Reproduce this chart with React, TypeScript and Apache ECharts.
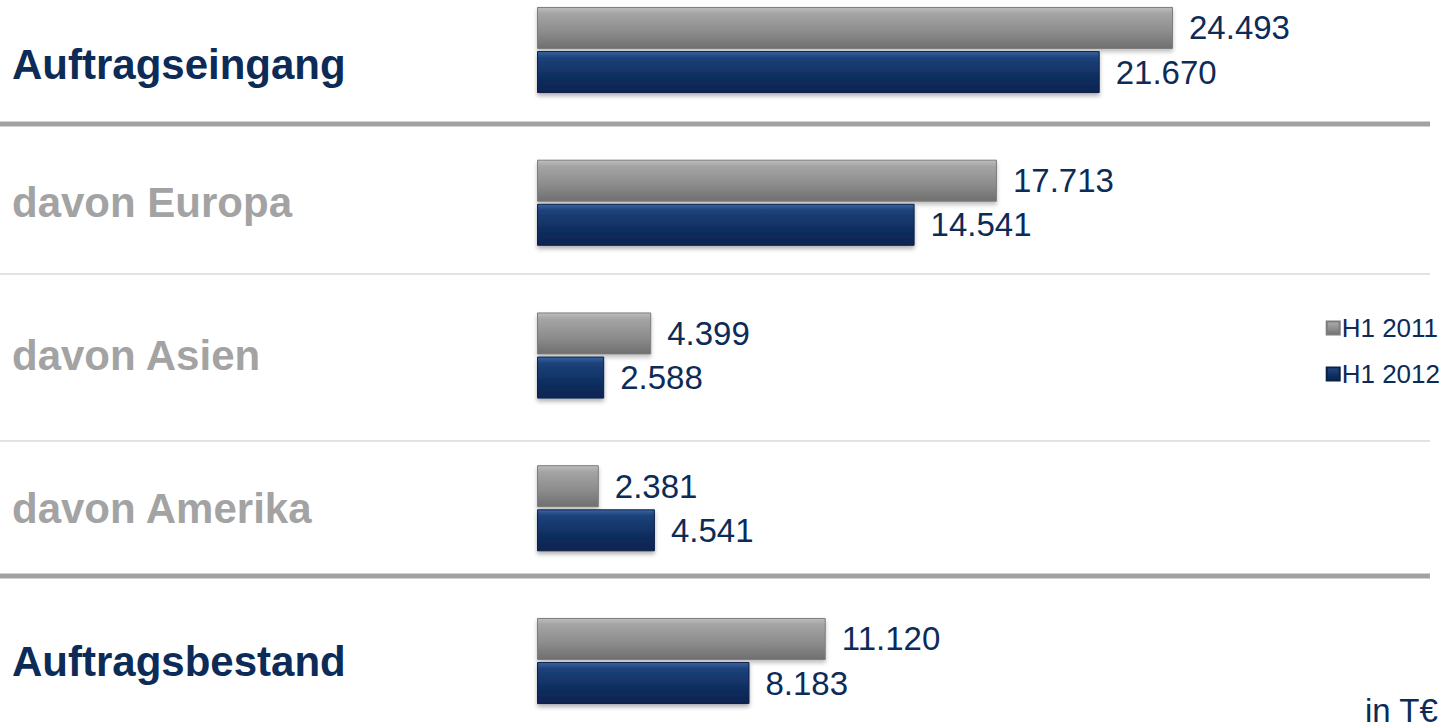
import React, { useEffect, useRef } from "react";
import * as echarts from "echarts";

const categories = [
  "Auftragseingang",
  "davon Europa",
  "davon Asien",
  "davon Amerika",
  "Auftragsbestand",
];
const headlineRows = [true, false, false, false, true];
const seriesNames = ["H1 2011", "H1 2012"];
const valuesH12011 = [24493, 17713, 4399, 2381, 11120];
const valuesH12012 = [21670, 14541, 2588, 4541, 8183];
const unitLabel = "in T€";

const NAVY = "#0d2b57";
const GRAY_TEXT = "#a3a3a3";
const FONT = "Liberation Sans, Arial, sans-serif";

function fmt(v: number): string {
  const s = String(Math.round(v));
  return s.replace(/\B(?=(\d{3})+(?!\d))/g, ".");
}

const grayGrad = new echarts.graphic.LinearGradient(0, 0, 0, 1, [
  { offset: 0, color: "#bdbdbd" },
  { offset: 0.15, color: "#a4a4a4" },
  { offset: 0.6, color: "#8c8c8c" },
  { offset: 1, color: "#6f6f6f" },
]);
const blueGrad = new echarts.graphic.LinearGradient(0, 0, 0, 1, [
  { offset: 0, color: "#3a64a0" },
  { offset: 0.15, color: "#1c427a" },
  { offset: 0.6, color: "#0f2f60" },
  { offset: 1, color: "#0a2450" },
]);

export default function App() {
  const ref = useRef<HTMLDivElement>(null);
  useEffect(() => {
    if (!ref.current) return;
    const chart = echarts.init(ref.current, undefined, { renderer: "svg" });
    const labelCfg = {
      show: true,
      position: "right" as const,
      distance: 16,
      color: NAVY,
      fontSize: 33,
      fontFamily: FONT,
      formatter: (p: any) => fmt(p.value),
    };
    chart.setOption({
      animation: false,
      backgroundColor: "#ffffff",
      grid: { left: 537, width: 779, top: 50, height: 611, containLabel: false },
      xAxis: {
        type: "value",
        min: 0,
        max: 30000,
        show: false,
      },
      yAxis: {
        type: "category",
        inverse: true,
        boundaryGap: false,
        data: categories,
        axisLine: { show: false },
        axisTick: { show: false },
        splitLine: { show: false },
        axisLabel: {
          align: "left",
          margin: 525,
          formatter: (v: string) => {
            const i = categories.indexOf(v);
            if (i === 0) return `{f|${v}}`;
            return headlineRows[i] ? `{h|${v}}` : `{s|${v}}`;
          },
          rich: {
            f: {
              fontSize: 42,
              fontWeight: "bold",
              color: NAVY,
              fontFamily: FONT,
              padding: [28, 0, 0, 0],
            },
            h: {
              fontSize: 42,
              fontWeight: "bold",
              color: NAVY,
              fontFamily: FONT,
            },
            s: {
              fontSize: 42,
              fontWeight: "bold",
              color: GRAY_TEXT,
              fontFamily: FONT,
            },
          },
        },
      },
      legend: {
        orient: "vertical",
        right: 3,
        top: 310,
        itemWidth: 13,
        itemHeight: 13,
        itemGap: 20,
        icon: "rect",
        textStyle: {
          color: NAVY,
          fontSize: 26,
          fontFamily: FONT,
          padding: [0, 0, 0, -3],
        },
        data: seriesNames,
      },
      series: [
        {
          name: seriesNames[0],
          type: "bar",
          data: valuesH12011,
          barWidth: 42,
          barGap: "5%",
          clip: false,
          itemStyle: {
            color: grayGrad,
            borderColor: "#7d7d7d",
            borderWidth: 1,
            shadowBlur: 4,
            shadowOffsetY: 3,
            shadowColor: "rgba(0,0,0,0.25)",
          },
          label: labelCfg,
        },
        {
          name: seriesNames[1],
          type: "bar",
          data: valuesH12012,
          barWidth: 42,
          barGap: "5%",
          clip: false,
          itemStyle: {
            color: blueGrad,
            borderColor: "#0a2048",
            borderWidth: 1,
            shadowBlur: 4,
            shadowOffsetY: 3,
            shadowColor: "rgba(0,0,0,0.3)",
          },
          label: labelCfg,
        },
      ],
      graphic: [
        {
          type: "line",
          shape: { x1: 0, y1: 124, x2: 1430, y2: 124 },
          style: { stroke: "#a2a2a2", lineWidth: 5 },
          z: -1,
        },
        {
          type: "line",
          shape: { x1: 0, y1: 274, x2: 1430, y2: 274 },
          style: { stroke: "#e2e2e2", lineWidth: 2 },
          z: -1,
        },
        {
          type: "line",
          shape: { x1: 0, y1: 441, x2: 1430, y2: 441 },
          style: { stroke: "#e2e2e2", lineWidth: 2 },
          z: -1,
        },
        {
          type: "line",
          shape: { x1: 0, y1: 576, x2: 1430, y2: 576 },
          style: { stroke: "#a2a2a2", lineWidth: 5 },
          z: -1,
        },
        {
          type: "text",
          left: 1365,
          top: 694,
          style: {
            text: unitLabel,
            fill: NAVY,
            fontSize: 33,
            fontFamily: FONT,
          },
        },
      ],
    });
    return () => chart.dispose();
  }, []);
  return (
    <div
      ref={ref}
      style={{ position: "absolute", left: 0, top: 0, width: 1448, height: 728 }}
    />
  );
}
